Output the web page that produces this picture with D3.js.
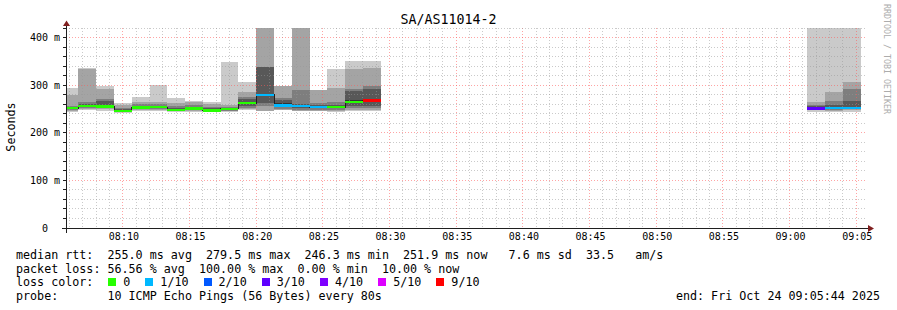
<!DOCTYPE html>
<html>
<head>
<meta charset="utf-8">
<script src="https://cdn.jsdelivr.net/npm/d3@7"></script>
<style>
  body { margin: 0; background: #fff; }
  svg { display: block; font-family: 'DejaVu Sans Mono', monospace; }
  text { white-space: pre; }
</style>
</head>
<body>
<div id="chart"></div>
<script>
// values, one entry per 80 s step (end time of the step)
var stepEnds = ['08:06:40', '08:08:00', '08:09:20', '08:10:40', '08:12:00', '08:13:20',
                '08:14:40', '08:16:00', '08:17:20', '08:18:40', '08:20:00', '08:21:20',
                '08:22:40', '08:24:00', '08:25:20', '08:26:40', '08:28:00', '08:29:20',
                '09:02:40', '09:04:00', '09:05:20'];

var medians = [252, 256, 255, 246.3, 253, 254, 248, 251, 247, 250, 262, 279.5,
               257, 256, 254, 254, 265, 268, 251, 252, 251.9];

var losses = [0, 0, 0, 0, 0, 0, 0, 0, 0, 0, 0, 1, 1, 1, 1, 0, 0, 9, 3, 1, 1];

// the 10 sorted pings of each step (ms), null = lost
var pings = [
  [244, 246, 248, 250, 252, 253, 254, 256, 280, 293],
  [247, 250, 252, 254, 256, 257, 260, 264, 334, 336],
  [246, 249, 251, 253, 255, 257, 266, 270, 292, 298],
  [242, 243, 245, 246, 246.3, 248, 250, 253, 258, 262],
  [245, 247, 249, 251, 253, 254, 256, 260, 264, 276],
  [246, 248, 250, 252, 254, 255, 257, 260, 265, 300],
  [244, 245, 246, 247, 248, 249, 252, 256, 263, 272],
  [243, 245, 247, 249, 251, 252, 254, 258, 264, 266],
  [243, 244, 245, 246, 247, 248, 251, 255, 260, 264],
  [244, 245, 246, 248, 250, 251, 253, 255, 258, 348],
  [248, 250, 253, 257, 262, 264, 270, 276, 285, 306],
  [244, 246, 256, 263, 279.5, 281, 339, 339, 612, null],
  [245, 247, 250, 254, 257, 262, 268, 272, 298, null],
  [244, 245, 248, 252, 256, 258, 260, 289, 587, null],
  [243, 245, 248, 251, 254, 255, 258, 263, 289, null],
  [243, 245, 248, 251, 254, 255, 258, 264, 293, 334],
  [245, 248, 253, 256, 265, 268, 287, 292, 333, 351],
  [245, 248, 253, 257, 268, 270, 291, 298, 337, 351],
  [244, 247, 249, 250, 251, 253, 256, 258, 264, 640],
  [244, 246, 248, 250, 252, 254, 258, 266, 285, 655],
  [244, 247, 249, 251, 251.9, 254, 266, 292, 306, 630]
];

var lossLevels = [0, 1, 2, 3, 4, 5, 9];
var lossLabels = ['0', '1/10', '2/10', '3/10', '4/10', '5/10', '9/10'];
var lossColors = ['#26ff00', '#00b8ff', '#0059ff', '#5e00ff', '#7e00ff', '#dd00ff', '#ff0000'];

var yTicks = [0, 100, 200, 300, 400];
var yTickLabels = ['0  ', '100 m', '200 m', '300 m', '400 m'];

var title = 'SA/AS11014-2';
var legendRows = [
  'median rtt:  255.0 ms avg  279.5 ms max  246.3 ms min  251.9 ms now   7.6 ms sd  33.5   am/s',
  'packet loss: 56.56 % avg  100.00 % max  0.00 % min  10.00 % now',
  'loss color:',
  'probe:       10 ICMP Echo Pings (56 Bytes) every 80s'
];
var endLabel = 'end: Fri Oct 24 09:05:44 2025';

var day = '2025-10-24 ';
var stepSec = 80;
var yMax = 420;

var svg = d3.select('#chart').append('svg')
    .attr('width', 897)
    .attr('height', 310);

var parseTime = d3.timeParse('%Y-%m-%d %H:%M:%S');

var x = d3.scaleTime()
    .domain([parseTime(day + '08:05:44'), parseTime(day + '09:05:44')])
    .range([66, 866]);

var y = d3.scaleLinear()
    .domain([0, yMax])
    .range([228, 28]);

var steps = stepEnds.map(function(e, i) {
  var end = parseTime(day + e);
  return {
    start: new Date(+end - stepSec * 1000),
    end: end,
    median: medians[i],
    loss: losses[i],
    pings: pings[i]
  };
});

function lossColor(loss) {
  var c = lossColors[0];
  lossLevels.forEach(function(l, i) { if (loss >= l) c = lossColors[i]; });
  return c;
}

svg.append('clipPath').attr('id', 'plot')
  .append('rect')
    .attr('x', 66).attr('y', 28)
    .attr('width', 800).attr('height', 200);

// smoke: pairs of pings from the outside in, darker towards the middle
var smoke = [];
steps.forEach(function(d) {
  for (var i = 0; i < 5; i++) {
    var lo = d.pings[i], hi = d.pings[9 - i];
    if (lo == null || hi == null) continue;
    var g = Math.floor(190 / 5 * (5 - (i + 1))) + 50;
    smoke.push({d: d, lo: lo, hi: hi, color: d3.rgb(g, g, g)});
  }
});

var plot = svg.append('g').attr('clip-path', 'url(#plot)');

plot.selectAll('.smoke')
    .data(smoke)
  .enter().append('rect')
    .attr('class', 'smoke')
    .attr('shape-rendering', 'crispEdges')
    .attr('x', function(s) { return x(s.d.start); })
    .attr('width', function(s) { return x(s.d.end) - x(s.d.start); })
    .attr('y', function(s) { return y(s.hi); })
    .attr('height', function(s) { return y(s.lo) - y(s.hi); })
    .attr('fill', function(s) { return s.color; });

// grid on top of the smoke
var minorCol = 'rgba(150,150,150,0.5)', majorCol = 'rgba(255,90,90,0.55)';
var grid = svg.append('g').attr('shape-rendering', 'crispEdges');
var minutes = x.ticks(d3.timeMinute.every(1));
grid.selectAll('.vgrid')
    .data(minutes)
  .enter().append('line')
    .attr('class', 'vgrid')
    .attr('x1', function(t) { return Math.floor(x(t)) + 0.5; })
    .attr('x2', function(t) { return Math.floor(x(t)) + 0.5; })
    .attr('y1', 28)
    .attr('y2', 228)
    .attr('stroke', function(t) { return t.getMinutes() % 5 === 0 ? majorCol : minorCol; })
    .attr('stroke-dasharray', '1,2');

grid.selectAll('.hgrid')
    .data(d3.range(20, yMax + 1, 20))
  .enter().append('line')
    .attr('class', 'hgrid')
    .attr('x1', 66)
    .attr('x2', 866)
    .attr('y1', function(v) { return Math.floor(y(v)) + 0.5; })
    .attr('y2', function(v) { return Math.floor(y(v)) + 0.5; })
    .attr('stroke', function(v) { return v % 100 === 0 ? majorCol : minorCol; })
    .attr('stroke-dasharray', '1,2');

// median: black step line, then the loss coloured band
var segments = [];
steps.forEach(function(d, i) {
  if (i > 0 && +steps[i - 1].end === +d.start) segments[segments.length - 1].push(d);
  else segments.push([d]);
});

var medLine = d3.line()
    .x(function(p) { return x(p[0]); })
    .y(function(p) { return Math.floor(y(p[1])) + 0.5; })
    .curve(d3.curveStepAfter);

var med = svg.append('g').attr('clip-path', 'url(#plot)');
segments.forEach(function(seg) {
  var pts = seg.map(function(d) { return [d.start, d.median]; });
  pts.push([seg[seg.length - 1].end, seg[seg.length - 1].median]);
  med.append('path')
      .attr('d', medLine(pts))
      .attr('fill', 'none')
      .attr('stroke', '#202020')
      .attr('stroke-width', 1)
      .attr('shape-rendering', 'crispEdges');
});

var sw = 2.5;
med.selectAll('.band')
    .data(steps)
  .enter().append('rect')
    .attr('class', 'band')
    .attr('shape-rendering', 'crispEdges')
    .attr('x', function(d) { return x(d.start); })
    .attr('width', function(d) { return x(d.end) - x(d.start); })
    .attr('y', function(d) { return y(d.median + sw); })
    .attr('height', function(d) { return y(d.median - sw) - y(d.median + sw); })
    .attr('fill', function(d) { return lossColor(d.loss); });

// axes
var axisCol = '#1f1f1f', arrowCol = '#801f1f';
svg.append('line')
    .attr('x1', 62).attr('x2', 868)
    .attr('y1', 228.5).attr('y2', 228.5)
    .attr('stroke', axisCol);
svg.append('line')
    .attr('x1', 66.5).attr('x2', 66.5)
    .attr('y1', 233).attr('y2', 26)
    .attr('stroke', axisCol);
svg.append('path')
    .attr('d', 'M868,225L874,228.5L868,232Z')
    .attr('fill', arrowCol);
svg.append('path')
    .attr('d', 'M63,26L66.5,20.5L70,26Z')
    .attr('fill', arrowCol);

svg.selectAll('.ytick')
    .data(d3.range(20, yMax + 1, 20))
  .enter().append('line')
    .attr('class', 'ytick')
    .attr('x1', 63).attr('x2', 66)
    .attr('y1', function(v) { return Math.floor(y(v)) + 0.5; })
    .attr('y2', function(v) { return Math.floor(y(v)) + 0.5; })
    .attr('stroke', axisCol);

svg.selectAll('.ylabel')
    .data(yTicks)
  .enter().append('text')
    .attr('class', 'ylabel')
    .attr('x', 60)
    .attr('y', function(v) { return y(v) + 3.5; })
    .attr('text-anchor', 'end')
    .attr('font-size', '10px')
    .text(function(v, i) { return yTickLabels[i]; });

var xAxis = d3.axisBottom(x)
    .ticks(d3.timeMinute.every(5))
    .tickFormat(d3.timeFormat('%H:%M'))
    .tickSize(0)
    .tickPadding(0);

var gx = svg.append('g')
    .attr('transform', 'translate(0.5, 233)')
    .call(xAxis);
gx.select('.domain').remove();
gx.selectAll('text')
    .attr('font-family', 'DejaVu Sans Mono')
    .attr('font-size', '10px')
    .attr('fill', '#000');

// titles
svg.append('text')
    .attr('x', 448.5).attr('y', 24)
    .attr('text-anchor', 'middle')
    .attr('font-size', '13.3px')
    .text(title);

svg.append('text')
    .attr('transform', 'translate(15,127) rotate(-90)')
    .attr('text-anchor', 'middle')
    .attr('font-size', '11.7px')
    .text('Seconds');

svg.append('text')
    .attr('transform', 'translate(884,59) rotate(90)')
    .attr('text-anchor', 'middle')
    .attr('font-size', '8.3px')
    .attr('fill', '#acacac')
    .text('RRDTOOL / TOBI OETIKER');

// legend
var rowY = [259, 272.5, 286, 299.5];
svg.selectAll('.legend')
    .data(legendRows)
  .enter().append('text')
    .attr('class', 'legend')
    .attr('x', 16)
    .attr('y', function(r, i) { return rowY[i]; })
    .attr('font-size', '11.7px')
    .text(function(r) { return r; });

svg.append('text')
    .attr('x', 880).attr('y', rowY[3])
    .attr('text-anchor', 'end')
    .attr('font-size', '11.7px')
    .text(endLabel);

var charW = 7.05, cursor = 108.3;
lossLabels.forEach(function(lab, i) {
  svg.append('rect')
      .attr('x', Math.round(cursor)).attr('y', 278)
      .attr('width', 8).attr('height', 8)
      .attr('fill', lossColors[i]);
  svg.append('text')
      .attr('x', cursor + 15).attr('y', rowY[2])
      .attr('font-size', '11.7px')
      .text(lab);
  cursor += 30 + lab.length * charW;
});
</script>
</body>
</html>
